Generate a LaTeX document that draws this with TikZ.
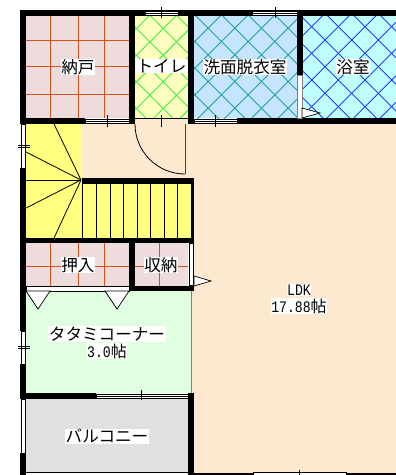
\documentclass[tikz,border=0pt]{standalone}
\usepackage{fontspec}
\setmainfont{Noto Sans CJK JP}
\newfontfamily\halfwidth[FakeStretch=0.82]{Liberation Mono}
\definecolor{matfill}{HTML}{EEDCDC}
\definecolor{matline}{HTML}{D2521E}
\definecolor{stairfill}{HTML}{FFFF80}
\definecolor{toiletfill}{HTML}{FFFFC0}
\definecolor{toiletline}{HTML}{40F040}
\definecolor{washfill}{HTML}{C4E4FF}
\definecolor{washline}{HTML}{20A0A0}
\definecolor{bathfill}{HTML}{C0FFFF}
\definecolor{bathline}{HTML}{2040FF}
\definecolor{ldkfill}{HTML}{FDE8D0}
\definecolor{tatamifill}{HTML}{E0FFE0}
\definecolor{balconyfill}{HTML}{E0E0E0}
\tikzstyle{roomname} = [rectangle, inner sep = 0.5pt, fill = white, text = black, font = \fontsize{16.6}{16.6}\selectfont]
\tikzstyle{numname} = [rectangle, inner sep = 0.5pt, fill = white, text = black, font = \fontsize{16}{16}\halfwidth]
\tikzstyle{wall} = [fill = black]
\tikzstyle{pane} = [draw = black, fill = white, line width = 0.7pt]
\tikzstyle{tick} = [draw = black, line width = 0.7pt]
\tikzstyle{mat} = [draw = matline, line width = 0.9pt]
\tikzstyle{tread} = [draw = black, line width = 0.8pt]
\begin{document}
\begin{tikzpicture}[x=1pt, y=-1pt]
	\useasboundingbox (0,0) rectangle (396,475);
	\fill [white] (0,0) rectangle (396,475);

	% floors
	\fill [ldkfill] (82,124) rectangle (396,178);
	\fill [ldkfill] (191,178) rectangle (396,475);
	\fill [matfill] (26,16) rectangle (129,118);
	\fill [toiletfill] (135,16) rectangle (188,118);
	\fill [washfill] (194,16) rectangle (297,118);
	\fill [bathfill] (303,16) rectangle (396,118);
	\fill [stairfill] (26,124) rectangle (82,238);
	\fill [stairfill] (82,184) rectangle (191,238);
	\fill [matfill] (26,243) rectangle (129,286);
	\fill [matfill] (135,243) rectangle (188,286);
	\fill [tatamifill] (26,291) rectangle (191,393);
	\fill [balconyfill] (26,399) rectangle (188,473);
	\draw [gray, line width = 0.8pt] (191,291) -- (191,393);
	\draw [black, line width = 0.7pt] (26,472.5) -- (188,472.5);

	% mats
	\foreach \x in {50,78,104} {
		\draw [mat] (\x,16) -- (\x,118);
		\draw [mat] (\x,243) -- (\x,286);
	}
	\foreach \y in {40,66,94}
		\draw [mat] (26,\y) -- (129,\y);
	\draw [mat] (26,266.5) -- (129,266.5);
	\draw [mat] (135,266.5) -- (188,266.5);
	\draw [mat] (159,243) -- (159,286);

	% tiles
	\begin{scope}
		\clip (135,16) rectangle (188,118);
		\foreach \k in {-2,...,8} {
			\draw [toiletline, line width = 0.9pt] (100,{91.7+26.67*\k}) -- +(120,-120);
			\draw [toiletline, line width = 0.9pt] (100,{-8+26.67*\k}) -- +(120,120);
		}
	\end{scope}
	\begin{scope}
		\clip (194,16) rectangle (297,118);
		\foreach \k in {-6,...,8} {
			\draw [washline, line width = 0.9pt] (160,{103+26.67*\k}) -- +(180,-180);
			\draw [washline, line width = 0.9pt] (160,{-20+26.67*\k}) -- +(180,180);
		}
	\end{scope}
	\begin{scope}
		\clip (303,16) rectangle (396,118);
		\foreach \k in {-6,...,8} {
			\draw [bathline, line width = 0.9pt] (280,{85+26.67*\k}) -- +(160,-160);
			\draw [bathline, line width = 0.9pt] (280,{-5+26.67*\k}) -- +(160,160);
		}
	\end{scope}

	% stairs
	\coordinate (newel) at (81,180);
	\draw [tread] (newel) -- (54,124);
	\draw [tread] (newel) -- (26,152);
	\draw [tread] (newel) -- (26,180);
	\draw [tread] (newel) -- (26,208);
	\draw [tread] (newel) -- (54,238);
	\foreach \x in {82.5,96.5,110,123.5,137,150.5,164,177.5}
		\draw [tread] (\x,184) -- (\x,238);

	% walls
	\fill [wall] (20,10) rectangle (396,16);
	\fill [wall] (20,10) rectangle (26,124);
	\fill [wall] (129,10) rectangle (135,124);
	\fill [wall] (188,10) rectangle (194,124);
	\fill [wall] (297,10) rectangle (303,75);
	\fill [wall] (20,118) rectangle (85,124);
	\fill [wall] (237,118) rectangle (396,124);
	\fill [wall] (297,118) rectangle (303,124);
	\fill [wall] (20,168) rectangle (26,331);
	\fill [wall] (20,364) rectangle (26,399);
	\fill [wall] (20,453) rectangle (26,475);
	\fill [wall] (82,178) rectangle (194,184);
	\fill [wall] (191,178) rectangle (194,243);
	\fill [wall] (20,238) rectangle (194,243);
	\fill [wall] (129,243) rectangle (135,291);
	\fill [wall] (129,285.5) rectangle (194,291);
	\fill [wall] (20,243) rectangle (26,291);
	\fill [wall] (20,393) rectangle (96,399);
	\fill [wall] (188,393) rectangle (194,475);
	\fill [wall] (194,473) rectangle (396,475);

	% windows
	\draw [pane] (145,11) rectangle (178,15);
	\draw [pane] (252,11) rectangle (297,15);
	\draw [pane] (85,119) rectangle (129,123);
	\draw [pane] (194,119) rectangle (237,123);
	\draw [pane] (96,394) rectangle (188,398);
	\draw [pane] (21.5,124) rectangle (25,168);
	\draw [pane] (21.5,331) rectangle (25,364);
	\draw [pane] (21.5,399) rectangle (25,453);
	\draw [pane] (253,472) rectangle (346,475);
	\draw [tick] (145,13) -- (178,13);
	\draw [tick] (252,13) -- (297,13);
	\draw [tick] (85,121) -- (129,121);
	\draw [tick] (194,121) -- (237,121);
	\draw [tick] (96,396) -- (188,396);
	\draw [tick] (161,7) -- (161,18);
	\draw [tick] (275,7) -- (275,18);
	\draw [tick] (107,115) -- (107,127);
	\draw [tick] (215,115) -- (215,127);
	\draw [tick] (141.5,390) -- (141.5,400);
	\draw [tick] (299,470) -- (299,475);
	\draw [tick] (18,145) -- (30,145);
	\draw [tick] (18,147) -- (30,147);
	\draw [tick] (18,346) -- (30,346);
	\draw [tick] (18,348) -- (30,348);

	% doors
	\fill [white] (135,118) rectangle (188,124);
	\fill [ldkfill] (135,119) rectangle (188,124);
	\draw [tick] (135,118.5) -- (188,118.5);
	\draw [tick] (161.5,115) -- (161.5,127);
	\draw [black, line width = 0.8pt] (135,124) arc [start angle = 180, end angle = 270, radius = 50pt];
	\draw [gray!50!black, line width = 0.9pt] (185,124) -- (185,174);
	\draw [pane, draw = gray] (297.5,75) rectangle (302,118);
	\draw [pane] (302,108) -- (320,113) -- (302,118) -- cycle;
	\draw [pane] (189,243) rectangle (193.5,285.5);
	\draw [pane] (194,276) -- (211,281) -- (194,286) -- cycle;
	\draw [pane] (26,286) rectangle (129,291);
	\draw [pane] (26,291) -- (50,291) -- (38,309) -- cycle;
	\draw [pane] (105,291) -- (129,291) -- (117,309) -- cycle;

	% names
	\node (storage)[roomname] at (78,67) {納戸};
	\node (toilet)[roomname] at (161.5,66) {トイレ};
	\node (wash)[roomname] at (245,67) {洗面脱衣室};
	\node (bath)[roomname] at (353,67) {浴室};
	\node (closet)[roomname] at (78,265) {押入};
	\node (cupboard)[roomname] at (161,265) {収納};
	\node (tatami)[roomname] at (107,334) {タタミコーナー};
	\node (tatamisize)[numname] at (107,351) {3.0{\rmfamily 帖}};
	\node (balcony)[roomname] at (107,436) {バルコニー};
	\node (ldk)[numname] at (299,290) {LDK};
	\node (ldksize)[numname] at (299,306) {17.88{\rmfamily 帖}};
\end{tikzpicture}
\end{document}
